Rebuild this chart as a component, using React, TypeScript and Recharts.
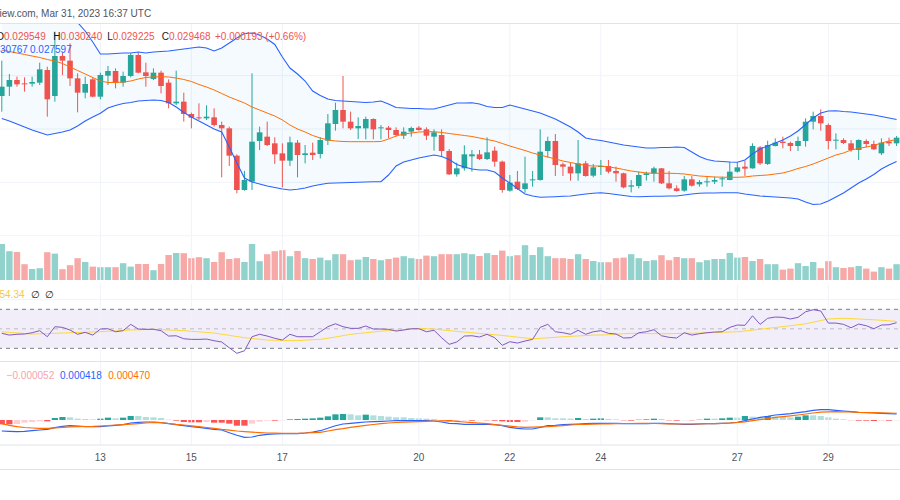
import React from 'react';
import { ComposedChart, Bar, Line, Area, XAxis, YAxis, ReferenceLine, ReferenceArea, Cell } from 'recharts';

// Prices are stored in micro-units (price x 1e6), 4h candles
const open = [32475,33175,33675,33425,33400,33475,34425,32475,35475,35125,33800,32725,33725,32425,34000,34350,33475,33975,35550,34250,33750,34225,33475,31925,32050,31125,30875,30800,30875,30300,30050,28000,25425,26050,29100,29425,28925,28175,27625,28975,28050,28225,28125,29125,30375,31425,30550,30050,30050,30750,30050,30100,29925,29500,29800,30100,29975,29425,29550,28350,26600,27050,27950,28100,27750,28375,27550,25375,26050,25500,26175,26175,28350,29100,27350,27175,26675,27425,26500,27150,27225,26850,26675,25675,25725,26550,26675,27050,25925,25550,25375,26225,25850,26025,26050,26225,26175,26800,27175,27050,28625,27375,28725,29050,28950,28725,29100,30550,30975,30300,29125,29175,28925,28425,29100,28875,28175,29050,28925];
const high = [35125,34125,33925,33875,33925,34975,34675,37300,35725,36425,34175,33925,33875,34225,34725,34550,34300,35675,35725,34975,34550,34375,33725,34375,32725,31225,31925,31775,31550,30550,30175,28100,26850,34175,30175,30550,29375,28925,29425,29175,28800,28975,29375,31125,31975,33975,31300,30875,30925,30800,30300,30225,30125,30125,30175,30225,30125,29975,29975,28500,27475,28775,28425,28425,29375,28675,27625,26550,26850,27925,26850,29975,29425,29625,27475,27475,29175,27600,27375,27675,27675,27175,26725,26175,26800,26800,27175,27075,26850,25775,26475,26475,26175,26425,26425,26425,27550,27475,27625,28925,28725,29125,29300,29425,29050,29425,30800,31300,31475,30425,29675,29300,29175,29225,29225,29125,29300,29350,29475];
const low = [31300,32475,33175,32800,33175,33300,30925,32050,34050,33225,31250,32300,32375,32225,33300,33050,33175,33875,34175,33175,33675,32675,31550,31800,30550,30050,30675,30675,30175,26375,27225,25175,25375,25425,28425,28725,27375,25625,27225,26375,27425,27675,27800,28800,29875,30050,29925,29250,29225,29225,29225,29300,29425,29250,29425,29875,29175,28375,27925,26550,26425,26875,26800,27675,27675,27175,25225,25300,25425,25225,25675,26125,27875,26475,26475,26125,26125,26425,26375,26550,26675,26050,25550,25250,25550,26125,26050,25875,25475,25300,25300,25675,25675,25675,25875,25675,26150,26725,26475,27025,27300,27300,28700,28550,28350,28350,28675,29975,29875,28475,28475,28875,28300,27675,28625,28425,28050,28725,28725];
const close = [33175,33675,33350,33350,33525,34475,32225,35475,35125,33800,32725,33375,32425,34050,34350,33475,33975,35550,34225,33975,34225,33225,31925,32050,31125,30850,30800,30925,30300,30050,28000,25425,26175,29050,29750,28800,28100,27625,29000,28050,28175,28050,29175,30425,31425,30550,30050,30225,30750,29975,30125,29925,29550,29800,30075,29925,29500,29750,28350,26600,27050,28100,28100,27750,28250,27550,25425,25975,25500,25925,26225,28300,29100,27300,27175,26675,27425,26475,27125,27225,26800,26675,25625,25775,26550,26675,27050,25925,25550,25350,26225,25750,26025,26075,26175,26300,26800,27125,27025,28725,27425,28800,28975,28950,28725,29100,30550,30975,30425,29100,29200,28950,28425,29175,28875,28475,28975,28925,29350];
// Volume, millions
const volume = [18.0,14.4,14.0,7.9,5.5,5.9,13.9,13.2,5.4,7.4,10.9,9.0,6.7,6.4,6.4,6.4,8.4,6.7,8.0,8.0,4.9,8.0,12.5,13.5,13.4,10.9,11.4,10.9,9.0,13.9,10.5,10.9,9.0,18.0,9.4,12.9,14.4,14.9,11.9,14.5,10.9,10.5,11.2,9.9,12.9,12.9,9.9,10.2,11.5,10.5,9.9,10.5,11.2,11.9,10.9,10.5,12.2,11.9,12.9,12.9,12.9,13.4,12.9,12.0,13.4,12.5,14.7,11.9,12.4,17.4,12.5,16.4,11.9,10.9,10.9,10.5,12.9,10.5,9.5,8.9,8.9,10.9,11.2,12.9,10.9,9.5,9.9,12.4,9.9,11.5,10.9,10.9,8.9,9.9,10.5,10.5,13.5,11.2,11.5,9.5,10.5,7.9,7.9,5.2,5.7,8.4,7.0,9.0,5.9,9.4,6.4,6.0,6.4,7.0,5.7,4.2,6.4,5.7,7.9];
// Bollinger Bands (micro-units)
const bbUpper = [38550,38625,38663,38700,38738,38775,38700,38588,38475,38325,37988,37350,36525,35625,35625,35663,35700,35700,35775,35700,35775,35813,35850,35925,36000,36075,36150,36075,35850,36075,36450,36825,37163,37200,37050,36750,36338,35400,34575,34125,33600,32850,32513,32250,32138,32100,32063,32025,31988,32025,32100,31875,31613,31575,31538,31538,31500,31500,31650,31800,31950,31950,31973,31875,31688,31613,31613,31800,31650,31500,31350,31200,30975,30750,30450,30150,29775,29325,29213,29138,29025,28913,28800,28725,28650,28575,28575,28613,28613,28650,28613,28275,27938,27713,27600,27563,27525,27503,27675,28125,28500,28725,28950,29175,29475,29850,30338,30825,31200,31350,31373,31313,31275,31200,31125,31050,30938,30825,30713];
const bbMiddle = [35925,35813,35700,35588,35475,35363,35213,35100,34913,34650,34388,34125,33863,33600,33488,33488,33525,33600,33750,33863,33900,33923,33900,33825,33713,33563,33338,33150,32925,32663,32400,32175,31950,31650,31425,31200,30975,30675,30300,30000,29775,29513,29325,29175,29100,29063,29048,29048,29048,29048,29063,29250,29475,29625,29700,29775,29798,29798,29738,29663,29588,29513,29438,29325,29213,29100,28913,28725,28553,28388,28200,28050,27900,27750,27600,27488,27375,27263,27225,27225,27150,27075,26963,26850,26775,26700,26678,26678,26678,26663,26625,26550,26475,26438,26400,26385,26378,26378,26400,26475,26513,26550,26625,26700,26850,27038,27188,27375,27600,27825,28050,28200,28425,28538,28650,28763,28950,29100,29213];
const bbLower = [30788,30600,30375,30150,29925,29738,29550,29663,29775,29925,30225,30600,30900,31178,31575,31763,31913,31988,32100,32138,32175,32138,31988,31650,31238,30900,30600,30300,30000,29775,28650,27450,26325,26025,25875,25725,25613,25500,25425,25485,25575,25725,25838,25928,25950,25965,25988,26003,26025,26040,26048,26550,27225,27525,27675,27825,27938,28050,27938,27713,27338,27150,27000,26925,26925,26775,26325,25950,25538,25125,24975,24878,24900,24923,24953,24975,25050,25125,25178,25223,25163,25088,25013,24938,24923,24938,24953,24960,24975,24975,25050,25125,25178,25200,25200,25215,25223,25223,25125,25050,24975,24938,24900,24863,24825,24750,24525,24338,24375,24600,24900,25200,25575,25950,26250,26588,27000,27300,27563];
// RSI 14 and its moving average
const rsi = [45.4,43.6,44.4,44.7,46.0,48.1,41.9,52.2,51.5,48.8,44.4,46.4,43.6,49.8,50.1,47.0,48.1,54.6,49.8,49.5,49.5,48.1,42.6,42.9,39.8,39.2,39.2,39.5,37.8,36.5,30.6,24.9,27.5,41.9,44.4,42.6,40.3,38.5,44.4,41.9,41.9,41.9,47.0,52.2,55.2,52.2,50.5,50.5,52.9,49.8,49.8,49.5,47.7,48.8,50.1,50.1,47.0,48.5,40.9,34.1,36.5,42.6,42.9,41.6,44.4,40.9,33.1,36.8,35.4,37.5,39.2,51.5,54.6,47.0,46.0,44.4,48.5,44.4,47.0,48.1,45.4,44.7,40.6,40.9,46.0,47.0,49.1,42.9,41.3,40.6,46.0,43.6,45.0,46.0,46.7,47.0,51.5,53.9,53.6,63.4,54.6,60.8,62.1,61.8,60.1,61.8,67.5,69.6,68.3,55.9,55.9,54.6,51.1,54.9,53.2,50.1,53.9,54.2,56.3];
const rsiMa = [47.0,46.4,45.8,45.2,44.7,44.9,45.2,45.4,45.7,46.0,46.3,46.5,46.8,47.0,47.5,47.9,48.4,48.8,49.0,49.3,49.5,49.2,48.8,48.5,48.1,47.5,46.9,46.3,45.7,44.5,43.3,42.1,40.9,40.1,39.3,38.5,38.3,38.1,37.9,38.0,38.4,38.8,39.2,40.4,41.6,43.0,44.4,45.2,46.0,46.8,47.7,48.2,48.6,49.1,49.8,50.5,50.1,49.8,49.0,48.2,47.4,46.7,46.0,45.3,44.6,44.0,43.2,42.4,41.5,40.6,39.8,40.3,40.8,41.3,41.9,42.3,42.7,43.1,43.6,43.6,44.0,44.5,45.0,45.4,45.3,45.2,45.1,45.0,45.0,45.2,45.4,45.5,45.7,46.0,46.3,46.5,46.8,47.0,47.8,48.7,49.6,50.5,51.4,52.3,53.2,54.2,55.2,56.8,58.5,60.1,60.5,60.8,60.5,60.1,59.7,59.3,58.8,58.2,57.7];
// MACD (micro-units)
const macdLine = [-880,-907,-933,-907,-853,-800,-747,-613,-507,-453,-480,-533,-533,-533,-480,-427,-373,-240,-187,-160,-160,-213,-293,-373,-453,-533,-587,-667,-747,-800,-1013,-1227,-1387,-1360,-1227,-1147,-1120,-1093,-1093,-1093,-1040,-960,-853,-667,-453,-320,-267,-213,-160,-133,-107,-80,-53,-53,-53,-53,-53,-80,-160,-267,-293,-347,-347,-347,-347,-373,-453,-587,-667,-720,-720,-587,-453,-427,-373,-347,-320,-293,-267,-267,-267,-267,-293,-293,-293,-293,-267,-267,-293,-320,-347,-347,-320,-293,-293,-267,-240,-187,-53,80,213,293,400,453,507,587,667,773,827,827,773,720,667,613,587,560,533,507,480];
const signalLine = [-293,-427,-533,-600,-640,-667,-667,-627,-587,-547,-533,-520,-507,-480,-440,-400,-373,-333,-293,-240,-200,-213,-280,-347,-400,-467,-533,-600,-667,-747,-813,-880,-933,-973,-1013,-1040,-1053,-1067,-1067,-1067,-1040,-1013,-987,-880,-773,-693,-587,-507,-427,-360,-293,-240,-200,-173,-147,-133,-107,-80,-67,-53,-107,-160,-213,-253,-293,-373,-427,-493,-547,-587,-573,-547,-533,-493,-453,-400,-360,-347,-333,-320,-307,-293,-280,-280,-267,-267,-280,-293,-307,-320,-320,-320,-307,-293,-293,-267,-240,-200,-147,-53,27,107,213,267,333,400,480,560,627,653,667,653,640,613,600,587,573,560,533];
const histogram = [-347,-347,-320,-213,-160,-107,-107,160,240,213,107,80,53,107,187,133,187,320,320,240,213,160,27,-53,-160,-187,-187,-160,-213,-213,-293,-453,-453,-293,-133,-53,-53,-27,53,80,107,133,187,293,453,480,453,373,427,373,320,267,213,213,160,133,107,80,-27,-107,-80,-53,-53,-27,-27,-53,-107,-160,-160,-133,-27,213,213,133,133,107,160,80,107,133,80,53,-27,-53,27,53,107,80,-27,-53,-27,-27,27,107,107,133,187,187,320,267,213,320,267,240,213,267,373,373,320,213,107,53,-13,-53,-53,-80,-53,-53,-27];
// Time axis
const tickIdx = [13, 25, 37, 55, 67, 79, 97, 109];
const tickLabels = ['13', '15', '17', '20', '22', '24', '27', '29'];
const priceGrid = [34000, 30000, 26000, 22000];

const rows = open.map((o, i) => ({
  idx: i, o, h: high[i], l: low[i], c: close[i], vol: volume[i],
  bbU: bbUpper[i], bbM: bbMiddle[i], bbL: bbLower[i],
  rsi: rsi[i], rsiMa: rsiMa[i], macd: macdLine[i], signal: signalLine[i], hist: histogram[i],
}));

const N = rows.length;
const BAND = 7.583;
const CW = BAND * N;
const CL = -2.4;
const BARSIZE = BAND - 2;
const FONT = '"Liberation Sans", Arial, sans-serif';
const GREEN = '#26a69a';
const RED = '#ef5350';
const GRID = '#f0f3fa';

const histColor = (i: number) => {
  const v = histogram[i];
  const p = i > 0 ? histogram[i - 1] : v;
  if (v >= 0) return p < v ? '#26a69a' : '#b2dfdb';
  return p < v ? '#ffcdd2' : '#ff5252';
};

const Candle = (props: any) => {
  const { x, y, width, height, payload } = props;
  if (!payload || x == null || y == null) return null;
  const top = Math.min(y, y + height);
  const bottom = Math.max(y, y + height);
  const { o, h, l, c } = payload;
  const k = h > l ? (bottom - top) / (h - l) : 0;
  const toY = (v: number) => top + (h - v) * k;
  const color = c >= o ? GREEN : RED;
  const cx = x + width / 2;
  const yo = toY(o);
  const yc = toY(c);
  const bTop = Math.min(yo, yc);
  const bH = Math.max(1, Math.abs(yo - yc));
  return (
    <g>
      <line x1={cx} x2={cx} y1={top} y2={bottom} stroke={color} strokeWidth={1} />
      <rect x={cx - 2.8} y={bTop} width={5.6} height={bH} fill={color} />
    </g>
  );
};

const makeRect = (w: number) => (props: any) => {
  const { x, y, width, height, fill } = props;
  if (x == null || y == null || !height) return null;
  const top = Math.min(y, y + height);
  return <rect x={x + width / 2 - w / 2} y={top} width={w} height={Math.abs(height)} fill={fill} />;
};
const VolRect = makeRect(6.4);
const HistRect = makeRect(6.2);

const vGrid = (axisId: string) =>
  tickIdx.map((t) => (
    <ReferenceLine key={'vg' + t} x={t} yAxisId={axisId} stroke={GRID} strokeWidth={1} ifOverflow="hidden" />
  ));

const Txt = ({ x, base, color, size = 10, children }: any) => (
  <div style={{ position: 'absolute', left: x, top: base - 9.45, fontSize: size, lineHeight: '12px', color, whiteSpace: 'nowrap', fontFamily: FONT }}>
    {children}
  </div>
);

const pane = (top: number): React.CSSProperties => ({ position: 'absolute', left: CL, top });
const margin = { top: 0, right: 0, bottom: 0, left: 0 };

export default function App() {
  return (
    <div style={{ position: 'absolute', left: 0, top: 0, width: 900, height: 500, overflow: 'hidden', background: '#ffffff', fontFamily: FONT }}>
      {/* volume + grid layer */}
      <div style={pane(23)}>
        <ComposedChart width={CW} height={257} data={rows} margin={margin}>
          <XAxis dataKey="idx" hide />
          <YAxis yAxisId="p" hide domain={[18675, 37950]} allowDataOverflow />
          <YAxis yAxisId="v" hide domain={[0, 128.5]} allowDataOverflow />
          {priceGrid.map((g) => (
            <ReferenceLine key={'hg' + g} y={g} yAxisId="p" stroke={GRID} strokeWidth={1} />
          ))}
          {vGrid('p')}
          <Bar yAxisId="v" dataKey="vol" barSize={BARSIZE} shape={VolRect} isAnimationActive={false}>
            {rows.map((r, i) => (
              <Cell key={i} fill={r.c >= r.o ? '#92d2cc' : '#f7a9a7'} />
            ))}
          </Bar>
        </ComposedChart>
      </div>
      {/* price layer */}
      <div style={pane(23)}>
        <ComposedChart width={CW} height={257} data={rows} margin={margin}>
          <XAxis dataKey="idx" hide />
          <YAxis yAxisId="p" hide domain={[18675, 37950]} allowDataOverflow />
          <Area yAxisId="p" dataKey={(d: any) => [d.bbL, d.bbU]} fill="#2196f3" fillOpacity={0.05} stroke="none" isAnimationActive={false} dot={false} activeDot={false} />
          <Line yAxisId="p" dataKey="bbM" stroke="#ff6d00" strokeWidth={1} dot={false} activeDot={false} isAnimationActive={false} />
          <Line yAxisId="p" dataKey="bbU" stroke="#2962ff" strokeWidth={1.1} dot={false} activeDot={false} isAnimationActive={false} />
          <Line yAxisId="p" dataKey="bbL" stroke="#2962ff" strokeWidth={1.1} dot={false} activeDot={false} isAnimationActive={false} />
          <Bar yAxisId="p" dataKey={(d: any) => [d.l, d.h]} barSize={BARSIZE} shape={Candle} isAnimationActive={false} />
        </ComposedChart>
      </div>
      {/* RSI pane */}
      <div style={pane(284)}>
        <ComposedChart width={CW} height={77} data={rows} margin={margin}>
          <XAxis dataKey="idx" hide />
          <YAxis yAxisId="r" hide domain={[17, 96]} allowDataOverflow />
          {vGrid('r')}
          <ReferenceLine y={80} yAxisId="r" stroke={GRID} />
          <ReferenceArea y1={30} y2={70} yAxisId="r" fill="#7e57c2" fillOpacity={0.1} stroke="none" />
          <ReferenceLine y={70} yAxisId="r" stroke="#787b86" strokeDasharray="4 4" />
          <ReferenceLine y={50} yAxisId="r" stroke="#787b86" strokeOpacity={0.45} strokeDasharray="4 4" />
          <ReferenceLine y={30} yAxisId="r" stroke="#787b86" strokeDasharray="4 4" />
          <Bar yAxisId="r" dataKey="rsi" barSize={BARSIZE} fill="none" shape={() => null} isAnimationActive={false} />
          <Line yAxisId="r" dataKey="rsiMa" stroke="#fdd835" strokeWidth={1} dot={false} activeDot={false} isAnimationActive={false} />
          <Line yAxisId="r" dataKey="rsi" stroke="#7e57c2" strokeWidth={1} dot={false} activeDot={false} isAnimationActive={false} />
        </ComposedChart>
      </div>
      {/* MACD pane + time axis */}
      <div style={pane(362)}>
        <ComposedChart width={CW} height={107} data={rows} margin={margin}>
          <XAxis
            dataKey="idx"
            height={24}
            ticks={tickIdx}
            interval={0}
            tickFormatter={(v: any) => tickLabels[tickIdx.indexOf(Number(v))] ?? ''}
            tickLine={false}
            axisLine={{ stroke: '#e0e3eb' }}
            tick={{ fontSize: 10, fill: '#50535e', fontFamily: FONT }}
            tickMargin={3}
          />
          <YAxis yAxisId="m" hide domain={[-2000, 4640]} allowDataOverflow />
          {vGrid('m')}
          <Bar yAxisId="m" dataKey="hist" barSize={BARSIZE} shape={HistRect} isAnimationActive={false}>
            {rows.map((r, i) => (
              <Cell key={i} fill={histColor(i)} />
            ))}
          </Bar>
          <Line yAxisId="m" dataKey="macd" stroke="#2962ff" strokeWidth={1.1} dot={false} activeDot={false} isAnimationActive={false} />
          <Line yAxisId="m" dataKey="signal" stroke="#ff6d00" strokeWidth={1.1} dot={false} activeDot={false} isAnimationActive={false} />
        </ComposedChart>
      </div>

      {/* separators */}
      <div style={{ position: 'absolute', left: 0, top: 23, width: 900, height: 1, background: '#e0e3eb' }} />
      <div style={{ position: 'absolute', left: 0, top: 361, width: 900, height: 1, background: '#e0e3eb' }} />
      <div style={{ position: 'absolute', left: 0, top: 469, width: 900, height: 1, background: '#e0e3eb' }} />

      {/* header */}
      <Txt x={-40.6} base={17.3} color="#50535e">TradingView.com, Mar 31, 2023 16:37 UTC</Txt>
      {/* OHLC legend */}
      <Txt x={-3.8} base={40} color="#131722">O<span style={{ color: '#ef5350' }}>0.029549</span></Txt>
      <Txt x={53.3} base={40} color="#131722">H<span style={{ color: '#ef5350' }}>0.030240</span></Txt>
      <Txt x={107.3} base={40} color="#131722">L<span style={{ color: '#ef5350' }}>0.029225</span></Txt>
      <Txt x={161.7} base={40} color="#131722">C<span style={{ color: '#ef5350' }}>0.029468</span></Txt>
      <Txt x={215} base={40} color="#ef5350">+0.000193 (+0.66%)</Txt>
      {/* BB legend */}
      <Txt x={-13.9} base={53} color="#2962ff">0.030767</Txt>
      <Txt x={30} base={53} color="#2962ff">0.027597</Txt>
      {/* RSI legend */}
      <Txt x={-0.5} base={298.5} color="#f2c94c">54.34</Txt>
      <Txt x={31} base={298.5} color="#131722">∅</Txt>
      <Txt x={45} base={298.5} color="#131722">∅</Txt>
      {/* MACD legend */}
      <Txt x={6.7} base={379} color="#f5a3ad">−0.000052</Txt>
      <Txt x={60} base={379} color="#2962ff">0.000418</Txt>
      <Txt x={108.3} base={379} color="#ff6d00">0.000470</Txt>
    </div>
  );
}
